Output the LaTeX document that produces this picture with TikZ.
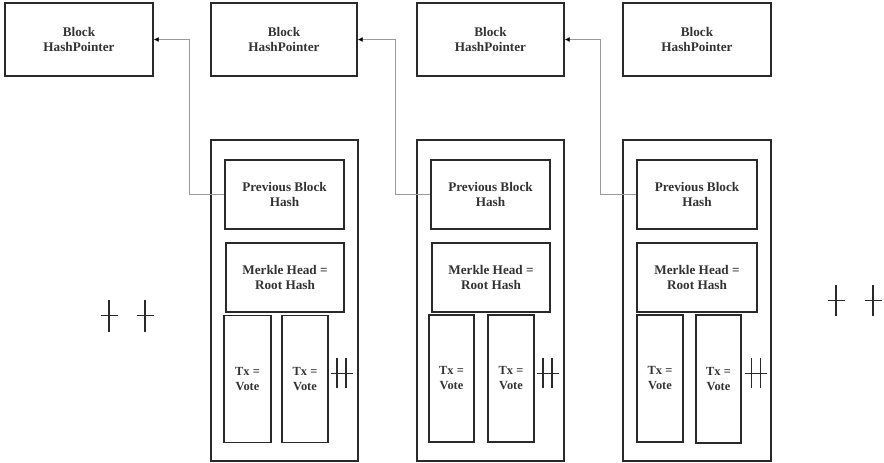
\documentclass[tikz,border=0pt]{standalone}
\usepackage{fontspec}
\setmainfont{Liberation Serif}
\usetikzlibrary{arrows.meta}
\definecolor{ink}{HTML}{2A2A2A}
\definecolor{txt}{HTML}{333333}
\definecolor{wire}{HTML}{9A9A9A}
\begin{document}
\begin{tikzpicture}[x=1pt,y=-1pt,
  box/.style={draw=ink,line width=1.4pt,inner sep=0pt,align=center,text=txt,
    font=\fontsize{13.2}{15}\selectfont\bfseries},
  txbox/.style={box,font=\fontsize{12.4}{15}\selectfont\bfseries},
  frame/.style={draw=ink,line width=1.3pt,inner sep=0pt},
  link/.style={draw=wire,line width=0.9pt,-{Latex[black,length=5pt,width=5pt]}},
  crossline/.style={draw=ink,line width=1.3pt}
]
\useasboundingbox (0,0) rectangle (884,463);
% top blocks
\node[box,minimum width=148,minimum height=73] (t1) at (79,39.5) {Block\\HashPointer};
\node[box,minimum width=146,minimum height=73] (t2) at (284,39.5) {Block\\HashPointer};
\node[box,minimum width=147,minimum height=73] (t3) at (490.5,39.5) {Block\\HashPointer};
\node[box,minimum width=148,minimum height=73] (t4) at (697,39.5) {Block\\HashPointer};
% containers
\node[frame,minimum width=147,minimum height=321] (c1) at (284.5,300.5) {};
\node[frame,minimum width=147,minimum height=321] (c2) at (490.5,300.5) {};
\node[frame,minimum width=148,minimum height=321] (c3) at (697,300.5) {};
% previous block hash
\node[box,minimum width=119,minimum height=69] (p1) at (284.5,194.5) {Previous Block\\Hash};
\node[box,minimum width=119,minimum height=69] (p2) at (490.5,194.5) {Previous Block\\Hash};
\node[box,minimum width=120,minimum height=69] (p3) at (697,194.5) {Previous Block\\Hash};
% merkle
\node[box,minimum width=118,minimum height=69] (m1) at (285,277.5) {Merkle Head =\\Root Hash};
\node[box,minimum width=118,minimum height=69] (m2) at (491,277.5) {Merkle Head =\\Root Hash};
\node[box,minimum width=120,minimum height=69] (m3) at (697,277.5) {Merkle Head =\\Root Hash};
% transactions
\node[txbox,minimum width=47,minimum height=127] (a1) at (247.5,379) {Tx =\\Vote};
\node[txbox,minimum width=46,minimum height=127] (b1) at (305,379) {Tx =\\Vote};
\node[txbox,minimum width=45,minimum height=127] (a2) at (451.5,378.5) {Tx =\\Vote};
\node[txbox,minimum width=46,minimum height=127] (b2) at (511,378.5) {Tx =\\Vote};
\node[txbox,minimum width=46,minimum height=127] (a3) at (660,378.5) {Tx =\\Vote};
\node[txbox,minimum width=45,minimum height=128] (b3) at (718.5,379) {Tx =\\Vote};
% links
\draw[link] (p1.west) -- ++(-35,0) |- (t1.east);
\draw[link] (p2.west) -- ++(-35,0) |- (t2.east);
\draw[link] (p3.west) -- ++(-36,0) |- (t3.east);
% double crosses
\foreach \x in {341.5,547.5,756}{
  \draw[crossline] (\x-4.5,358) -- (\x-4.5,388);
  \draw[crossline] (\x+4.5,358) -- (\x+4.5,388);
  \draw[crossline,line width=1pt] (\x-11,373) -- (\x+11,373);
}
% single crosses
\foreach \x in {109,145}{
  \draw[crossline] (\x,300) -- (\x,332);
  \draw[crossline,line width=1pt] (\x-8.5,315) -- (\x+8.5,315);
}
\foreach \x in {836,873}{
  \draw[crossline] (\x,285) -- (\x,316);
  \draw[crossline,line width=1pt] (\x-8.5,300) -- (\x+8.5,300);
}
\end{tikzpicture}
\end{document}
